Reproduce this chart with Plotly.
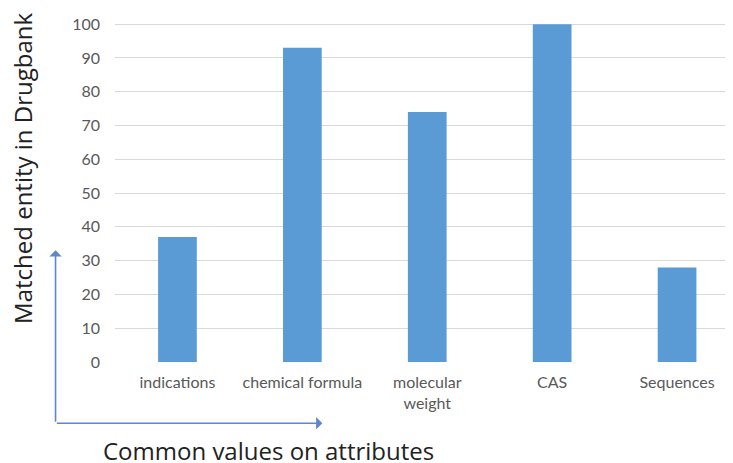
import plotly.graph_objects as go

categories = ["indications", "chemical formula", "molecular<br>weight", "CAS", "Sequences"]
values = [37, 93, 74, 100, 28]
y_ticks = [0, 10, 20, 30, 40, 50, 60, 70, 80, 90, 100]

W, H = 733, 463
OFF = 8  # page body offset
L = 114.5 - OFF
T = 13.6 - OFF
B = H - (361.7 - OFF)
R = 0
plot_h = H - T - B
plot_w = W - L - R

def px_x(p):
    return (p - OFF - L) / plot_w

def px_y(p):
    return (H - B - (p - OFF)) / plot_h

fig = go.Figure(go.Bar(x=categories, y=values, marker=dict(color="#5B9BD5", line=dict(width=0)), width=0.31))

fig.update_layout(
    width=W, height=H,
    margin=dict(l=L, r=R, t=T, b=B, pad=0, autoexpand=False),
    paper_bgcolor="white", plot_bgcolor="white",
    showlegend=False,
    xaxis=dict(range=[-0.5, -0.5 + plot_w / 125.0], showgrid=False, showline=False, zeroline=False,
               ticks="", tickfont=dict(family="Lato", size=16, color="#595959"), ticklabelstandoff=9),
    yaxis=dict(range=[0, 103], tickvals=y_ticks, showgrid=True, gridcolor="#D9D9D9", gridwidth=1,
               zeroline=False, showline=False, ticks="",
               tickfont=dict(family="Lato", size=16, color="#595959"), ticklabelstandoff=14),
)

fig.add_annotation(text="Matched entity in Drugbank", xref="paper", yref="paper",
                   x=px_x(22), y=px_y(168), xanchor="center", yanchor="middle",
                   textangle=-90, showarrow=False,
                   font=dict(family="Open Sans", size=24, color="#222222"))
fig.add_annotation(text="Common values on attributes", xref="paper", yref="paper",
                   x=px_x(268), y=px_y(450), xanchor="center", yanchor="middle", showarrow=False,
                   font=dict(family="Open Sans", size=24, color="#222222"))

# axis arrows
fig.add_annotation(x=px_x(55), y=px_y(250), xref="paper", yref="paper", ax=0, ay=173,
                   text="", showarrow=True, arrowhead=1, arrowsize=1.3, arrowwidth=1.6,
                   arrowcolor="#5E86CF")
fig.add_annotation(x=px_x(322), y=px_y(423), xref="paper", yref="paper", ax=-267, ay=0,
                   text="", showarrow=True, arrowhead=1, arrowsize=1.3, arrowwidth=1.6,
                   arrowcolor="#5E86CF")

fig.write_html("out.html")
